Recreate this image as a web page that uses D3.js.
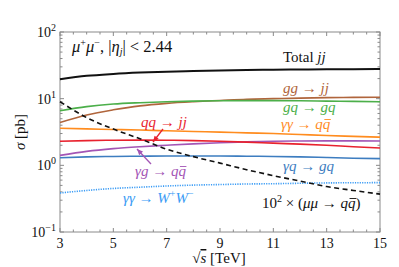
<!DOCTYPE html>
<html><head><meta charset="utf-8">
<script src="https://cdn.jsdelivr.net/npm/d3@7"></script>
<style>body{margin:0;background:#fff}svg{display:block}text{font-family:"Liberation Serif","DejaVu Serif",serif}</style>
</head><body><svg id="c" width="399" height="267"></svg>
<script>
const sqrtS = [3, 4, 5, 6, 7, 8, 9, 10, 11, 12, 13, 14, 15];
const totalJJ = [19.5, 22.0, 23.5, 24.6, 25.4, 26.0, 26.5, 26.9, 27.2, 27.4, 27.6, 27.7, 27.8];
const ggJJ    = [4.4, 5.7, 6.8, 7.8, 8.5, 9.0, 9.4, 9.8, 10.0, 10.2, 10.35, 10.45, 10.5];
const gqGQ    = [6.6, 7.6, 8.3, 8.7, 9.0, 9.2, 9.3, 9.35, 9.35, 9.3, 9.2, 9.1, 9.0];
const aaQQ    = [3.6, 3.52, 3.45, 3.38, 3.3, 3.22, 3.15, 3.07, 3.0, 2.9, 2.8, 2.72, 2.65];
const qqJJ    = [2.3, 2.35, 2.38, 2.39, 2.38, 2.35, 2.3, 2.23, 2.15, 2.08, 2.0, 1.9, 1.82];
const agQQ    = [1.41, 1.62, 1.78, 1.9, 2.0, 2.1, 2.18, 2.25, 2.3, 2.32, 2.33, 2.33, 2.32];
const aqGQ    = [1.3, 1.34, 1.36, 1.37, 1.38, 1.38, 1.38, 1.37, 1.36, 1.34, 1.31, 1.28, 1.26];
const aaWW    = [0.385, 0.42, 0.45, 0.47, 0.49, 0.505, 0.515, 0.525, 0.53, 0.538, 0.545, 0.548, 0.55];
const mumuQQ  = [9.0, 5.2, 3.5, 2.5, 1.75, 1.35, 1.08, 0.86, 0.7, 0.58, 0.48, 0.42, 0.37];
const xTicks = [3, 5, 7, 9, 11, 13, 15];
const yTicks = [0.1, 1, 10, 100];
const yExp = ["\u22121", "0", "1", "2"];

const svg = d3.select("#c");
const L = 60, R = 380, T = 32, B = 232;
const x = d3.scaleLinear().domain([3, 15]).range([L, R]);
const y = d3.scaleLog().domain([0.1, 100]).range([B, T]);

svg.append("rect").attr("x", L).attr("y", T).attr("width", R - L).attr("height", B - T)
  .attr("fill", "none").attr("stroke", "#8a8a8a").attr("stroke-width", 1);

const xt = d3.range(3, 15.01, 0.5);
xt.forEach(v => {
  const len = Number.isInteger(v) && v % 2 === 1 ? 4 : 2.5;
  svg.append("line").attr("x1", x(v)).attr("x2", x(v)).attr("y1", B).attr("y2", B - len).attr("stroke", "#8a8a8a");
  svg.append("line").attr("x1", x(v)).attr("x2", x(v)).attr("y1", T).attr("y2", T + len).attr("stroke", "#8a8a8a");
});
const yt = [];
[0.1, 1, 10].forEach(d => { for (let k = 1; k <= 9; k++) yt.push(d * k); });
yt.push(100);
yt.forEach(v => {
  const major = yTicks.some(t => Math.abs(t - v) / v < 1e-6);
  const len = major ? 4 : 2.5;
  svg.append("line").attr("x1", L).attr("x2", L + len).attr("y1", y(v)).attr("y2", y(v)).attr("stroke", "#8a8a8a");
  svg.append("line").attr("x1", R).attr("x2", R - len).attr("y1", y(v)).attr("y2", y(v)).attr("stroke", "#8a8a8a");
});

xTicks.forEach(v => {
  svg.append("text").attr("x", x(v)).attr("y", 248).attr("text-anchor", "middle")
    .attr("font-size", 14).attr("fill", "#111").text(v);
});
yTicks.forEach((v, i) => {
  const t = svg.append("text").attr("x", 56).attr("y", y(v) + 5).attr("text-anchor", "end")
    .attr("font-size", 14).attr("fill", "#111");
  t.append("tspan").text("10");
  t.append("tspan").attr("dy", -6).attr("font-size", 10).text(yExp[i]);
});

const yl = svg.append("text").attr("transform", "translate(25,132) rotate(-90)")
  .attr("text-anchor", "middle").attr("font-size", 15).attr("fill", "#111");
yl.append("tspan").attr("font-style", "italic").text("\u03C3");
yl.append("tspan").text(" [pb]");
const xl = svg.append("text").attr("x", 219).attr("y", 263).attr("text-anchor", "middle")
  .attr("font-size", 15).attr("fill", "#111");
xl.append("tspan").text("\u221A");
xl.append("tspan").attr("font-style", "italic").attr("text-decoration", "overline").text("s");
xl.append("tspan").text(" [TeV]");

const line = d3.line().x((d, i) => x(sqrtS[i])).y(d => y(d)).curve(d3.curveMonotoneX);
const series = [
  { v: aaWW, c: "#3b9cf5", w: 1.6, dash: "1.2,1.2" },
  { v: aqGQ, c: "#3d7dc0", w: 1.6 },
  { v: agQQ, c: "#a355b5", w: 1.6 },
  { v: qqJJ, c: "#e8222e", w: 1.6 },
  { v: aaQQ, c: "#ff8c1f", w: 1.6 },
  { v: ggJJ, c: "#b0653c", w: 1.6 },
  { v: gqGQ, c: "#4caf4a", w: 1.6 },
  { v: totalJJ, c: "#111", w: 2 },
  { v: mumuQQ, c: "#111", w: 1.6, dash: "5,3.5" }
];
series.forEach(s => {
  svg.append("path").attr("d", line(s.v)).attr("fill", "none").attr("stroke", s.c)
    .attr("stroke-width", s.w).attr("stroke-dasharray", s.dash || null);
});

// parts: {t, i (italic), s: 'sup'|'sub', b (bar over the char)}
function label(xp, yp, color, parts, fs) {
  fs = fs || 15;
  const t = svg.append("text").attr("x", xp).attr("y", yp).attr("font-size", fs).attr("fill", color);
  let shift = 0, idx = 0;
  const bars = [];
  parts.forEach(p => {
    const target = p.s === "sup" ? -6 : p.s === "sub" ? 3 : 0;
    const s = t.append("tspan").text(p.t);
    if (target !== shift) { s.attr("dy", target - shift); shift = target; }
    if (p.i) s.attr("font-style", "italic");
    if (p.s) s.attr("font-size", 10);
    if (p.b) bars.push(idx);
    idx += p.t.length;
  });
  const node = t.node();
  bars.forEach(k => {
    const e = node.getExtentOfChar(k);
    svg.append("line").attr("x1", e.x + 1.5).attr("x2", e.x + e.width + 0.5)
      .attr("y1", yp - 9.5).attr("y2", yp - 9.5).attr("stroke", color).attr("stroke-width", 0.9);
  });
  return t;
}
const A = { t: " \u2192 " };
label(72, 52, "#111", [{t:"\u03BC",i:1},{t:"+",s:"sup"},{t:"\u03BC",i:1},{t:"\u2212",s:"sup"},{t:", |"},{t:"\u03B7",i:1},{t:"j",i:1,s:"sub"},{t:"| < 2.44"}], 16.5);
label(283, 62, "#111", [{t:"Total "},{t:"jj",i:1}]);
label(283, 93, "#b0653c", [{t:"gg",i:1},A,{t:"jj",i:1}]);
label(283, 112, "#4caf4a", [{t:"gq",i:1},A,{t:"gq",i:1}]);
label(281, 129, "#ff8c1f", [{t:"\u03B3\u03B3",i:1},A,{t:"q",i:1},{t:"q",i:1,b:1}]);
label(141, 127, "#e8222e", [{t:"qq",i:1},A,{t:"jj",i:1}]);
label(135, 176, "#a355b5", [{t:"\u03B3g",i:1},A,{t:"q",i:1},{t:"q",i:1,b:1}]);
label(283, 171, "#3d7dc0", [{t:"\u03B3q",i:1},A,{t:"gq",i:1}]);
label(123, 203, "#3b9cf5", [{t:"\u03B3\u03B3",i:1},A,{t:"W",i:1},{t:"+",s:"sup"},{t:"W",i:1},{t:"\u2212",s:"sup"}]);
label(262, 208, "#111", [{t:"10"},{t:"2",s:"sup"},{t:" \u00D7 ("},{t:"\u03BC\u03BC",i:1},A,{t:"q",i:1},{t:"q",i:1,b:1},{t:")"}]);

function arrow(x1, y1, x2, y2, color) {
  svg.append("line").attr("x1", x1).attr("y1", y1).attr("x2", x2).attr("y2", y2)
    .attr("stroke", color).attr("stroke-width", 1.3);
  const a = Math.atan2(y2 - y1, x2 - x1), h = 6, w = 2.6;
  const bx = x2 - h * Math.cos(a), by = y2 - h * Math.sin(a);
  const p = [[x2, y2], [bx + w * Math.sin(a), by - w * Math.cos(a)], [bx - w * Math.sin(a), by + w * Math.cos(a)]];
  svg.append("path").attr("d", "M" + p.map(q => q.join(",")).join("L") + "Z").attr("fill", color);
}
arrow(163, 129, 153, 142, "#e8222e");
arrow(151, 164, 137, 149, "#a355b5");
</script></body></html>
